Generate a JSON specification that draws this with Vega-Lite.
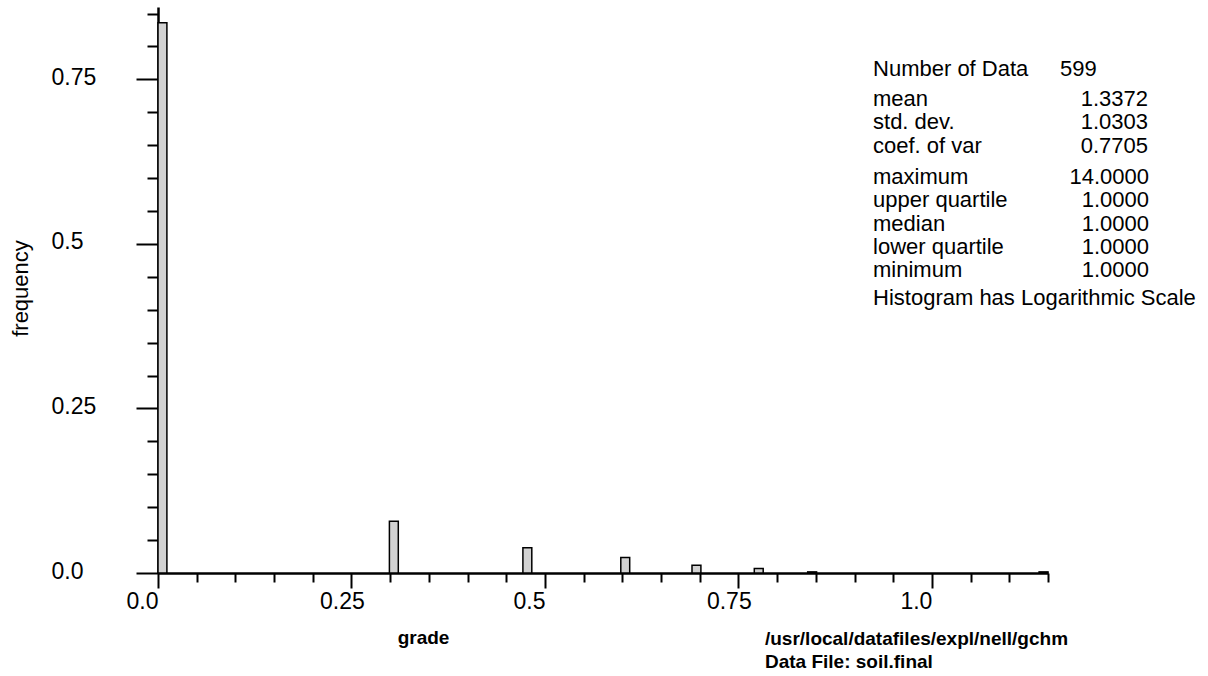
{
  "$schema": "https://vega.github.io/schema/vega-lite/v6.json",
  "width": 890,
  "height": 566,
  "autosize": {"type": "none"},
  "padding": {"left": 158, "top": 7, "right": 160, "bottom": 103},
  "background": "white",
  "config": {"view": {"stroke": null}, "font": "Liberation Sans"},
  "data": {"values": [
    {"bin_start": 0, "bin_end": 0.0115, "frequency": 0.836},
    {"bin_start": 0.299, "bin_end": 0.3105, "frequency": 0.0785},
    {"bin_start": 0.4715, "bin_end": 0.483, "frequency": 0.0384},
    {"bin_start": 0.598, "bin_end": 0.6095, "frequency": 0.0234},
    {"bin_start": 0.69, "bin_end": 0.7015, "frequency": 0.0117},
    {"bin_start": 0.7705, "bin_end": 0.782, "frequency": 0.0067},
    {"bin_start": 0.8395, "bin_end": 0.851, "frequency": 0.0017},
    {"bin_start": 1.1385, "bin_end": 1.15, "frequency": 0.0017}
  ]},
  "layer": [
    {
      "mark": {"type": "rect", "fill": "#d2d2d2", "stroke": "#000000", "strokeWidth": 1.5},
      "encoding": {
        "x": {
          "field": "bin_start", "type": "quantitative", "title": "grade",
          "scale": {"domain": [0, 1.15], "nice": false, "zero": false},
          "axis": {
            "values": [0, 0.05, 0.1, 0.15, 0.2, 0.25, 0.3, 0.35, 0.4, 0.45, 0.5, 0.55, 0.6, 0.65, 0.7, 0.75, 0.8, 0.85, 0.9, 0.95, 1, 1.05, 1.1, 1.15],
            "tickCount": 200,
            "grid": false,
            "domainColor": "#000000", "domainWidth": 2.5,
            "tickColor": "#000000", "tickWidth": 2,
            "tickSize": {"condition": {"test": "abs(datum.value*4-round(datum.value*4))<1e-6", "value": 15}, "value": 9},
            "labelExpr": "abs(datum.value*4-round(datum.value*4))<1e-6 ? (datum.value==0 ? '0.0' : datum.value==1 ? '1.0' : format(datum.value,'~g')) : ''",
            "labelFont": "Liberation Sans", "labelFontSize": 23, "labelColor": "#000000",
            "labelAlign": "left", "labelOffset": -32, "labelBaseline": "top", "labelPadding": 2,
            "labelOverlap": false, "labelFlush": false, "labelBound": false,
            "titleFont": "Liberation Sans", "titleFontSize": 19, "titleFontWeight": "bold", "titleColor": "#000000",
            "titleX": 265, "titleY": 70, "titleAlign": "center", "titleBaseline": "alphabetic"
          }
        },
        "x2": {"field": "bin_end"},
        "y": {
          "field": "frequency", "type": "quantitative", "title": "frequency",
          "scale": {"domain": [0, 0.86], "nice": false},
          "axis": {
            "values": [0, 0.05, 0.1, 0.15, 0.2, 0.25, 0.3, 0.35, 0.4, 0.45, 0.5, 0.55, 0.6, 0.65, 0.7, 0.75, 0.8, 0.85],
            "tickCount": 200,
            "grid": false,
            "domainColor": "#000000", "domainWidth": 2.5,
            "tickColor": "#000000", "tickWidth": 2,
            "tickSize": {"condition": {"test": "abs(datum.value*4-round(datum.value*4))<1e-6", "value": 22}, "value": 11},
            "labelExpr": "abs(datum.value*4-round(datum.value*4))<1e-6 ? (datum.value==0 ? '0.0' : format(datum.value,'~g')) : ''",
            "labelFont": "Liberation Sans", "labelFontSize": 23, "labelColor": "#000000",
            "labelAlign": "left", "labelBaseline": "middle", "labelPadding": 85, "labelOffset": -2,
            "labelOverlap": false, "labelFlush": false, "labelBound": false,
            "titleFont": "Liberation Sans", "titleFontSize": 22, "titleFontWeight": "normal", "titleColor": "#000000",
            "titleX": -131, "titleY": 281, "titleAngle": -90, "titleAlign": "center", "titleBaseline": "alphabetic"
          }
        },
        "y2": {"datum": 0}
      }
    },
    {
      "data": {"values": [{}]},
      "mark": {"type": "text", "align": "left", "baseline": "alphabetic", "font": "Liberation Sans", "fontSize": 22, "color": "#000000", "text": "Number of Data"},
      "encoding": {"x": {"datum": 0.9239, "type": "quantitative"}, "y": {"datum": 0.7552, "type": "quantitative"}}
    },
    {
      "data": {"values": [{}]},
      "mark": {"type": "text", "align": "left", "baseline": "alphabetic", "font": "Liberation Sans", "fontSize": 22, "color": "#000000", "text": "599"},
      "encoding": {"x": {"datum": 1.1655, "type": "quantitative"}, "y": {"datum": 0.7552, "type": "quantitative"}}
    },
    {
      "data": {"values": [{}]},
      "mark": {"type": "text", "align": "left", "baseline": "alphabetic", "font": "Liberation Sans", "fontSize": 22, "lineHeight": 23.3, "color": "#000000", "text": ["mean", "std. dev.", "coef. of var"]},
      "encoding": {"x": {"datum": 0.9239, "type": "quantitative"}, "y": {"datum": 0.7096, "type": "quantitative"}}
    },
    {
      "data": {"values": [{}]},
      "mark": {"type": "text", "align": "right", "baseline": "alphabetic", "font": "Liberation Sans", "fontSize": 22, "lineHeight": 23.3, "color": "#000000", "text": ["1.3372", "1.0303", "0.7705"]},
      "encoding": {"x": {"datum": 1.2792, "type": "quantitative"}, "y": {"datum": 0.7096, "type": "quantitative"}}
    },
    {
      "data": {"values": [{}]},
      "mark": {"type": "text", "align": "left", "baseline": "alphabetic", "font": "Liberation Sans", "fontSize": 22, "lineHeight": 23.3, "color": "#000000", "text": ["maximum", "upper quartile", "median", "lower quartile", "minimum"]},
      "encoding": {"x": {"datum": 0.9239, "type": "quantitative"}, "y": {"datum": 0.5911, "type": "quantitative"}}
    },
    {
      "data": {"values": [{}]},
      "mark": {"type": "text", "align": "right", "baseline": "alphabetic", "font": "Liberation Sans", "fontSize": 22, "lineHeight": 23.3, "color": "#000000", "text": ["14.0000", "1.0000", "1.0000", "1.0000", "1.0000"]},
      "encoding": {"x": {"datum": 1.2805, "type": "quantitative"}, "y": {"datum": 0.5911, "type": "quantitative"}}
    },
    {
      "data": {"values": [{}]},
      "mark": {"type": "text", "align": "left", "baseline": "alphabetic", "font": "Liberation Sans", "fontSize": 22, "color": "#000000", "text": "Histogram has Logarithmic Scale"},
      "encoding": {"x": {"datum": 0.9239, "type": "quantitative"}, "y": {"datum": 0.4072, "type": "quantitative"}}
    },
    {
      "data": {"values": [{}]},
      "mark": {"type": "text", "align": "left", "baseline": "alphabetic", "font": "Liberation Sans", "fontSize": 19, "fontWeight": "bold", "lineHeight": 23, "color": "#000000", "text": ["/usr/local/datafiles/expl/nell/gchm", "Data File: soil.final"]},
      "encoding": {"x": {"datum": 0.7843, "type": "quantitative"}, "y": {"datum": -0.1094, "type": "quantitative"}}
    }
  ]
}
